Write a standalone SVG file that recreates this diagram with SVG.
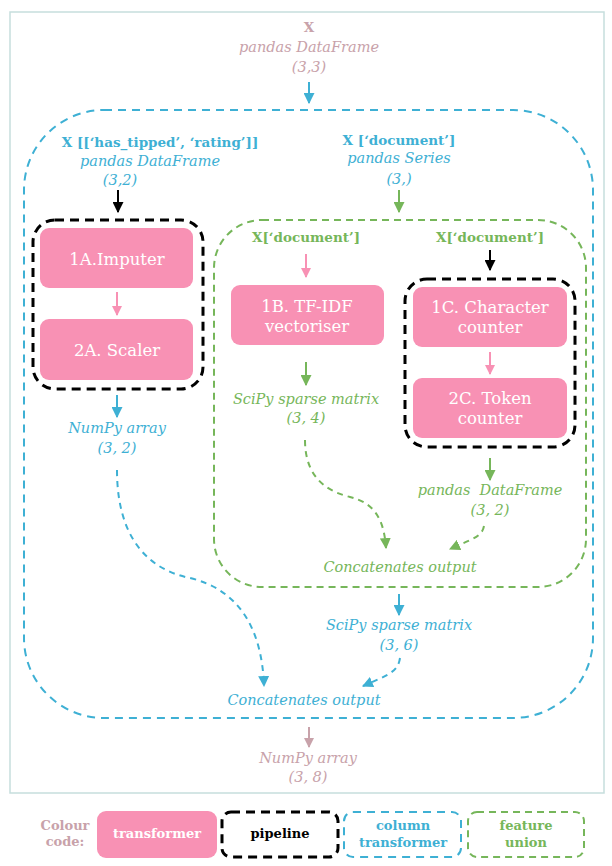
<svg xmlns="http://www.w3.org/2000/svg" width="612" height="866" viewBox="0 0 612 866">
<defs>
<style>
text{font-family:"DejaVu Serif","Liberation Serif",serif;text-anchor:middle}
.it{font-style:italic;font-size:14.5px}
.b{font-weight:bold;font-size:13.5px}
.lg{font-size:13px}
.box{fill:#f891b4}
.bt{fill:#fff;font-size:16.5px}
.blue{fill:#3eb0d4}
.green{fill:#76b65a}
.grey{fill:#c8a2aa}
.ct{fill:none;stroke:#3eb0d4;stroke-width:2;stroke-dasharray:8 6}
.fu{fill:none;stroke:#76b65a;stroke-width:2;stroke-dasharray:7 5}
.pl{fill:none;stroke:#000;stroke-width:3;stroke-dasharray:9 6}
.a{fill:none;stroke-width:2}
.ab{stroke:#3eb0d4;marker-end:url(#mb)}
.ag{stroke:#76b65a;marker-end:url(#mg)}
.ap{stroke:#f891b4;marker-end:url(#mp)}
.ak{stroke:#000;marker-end:url(#mk)}
.ay{stroke:#c8a2aa;marker-end:url(#my)}
.dash{stroke-dasharray:6 5}
</style>
<marker id="mb" viewBox="0 0 10 10" refX="9" refY="5" markerWidth="11" markerHeight="11" markerUnits="userSpaceOnUse" orient="auto"><path d="M0,0 L10,5 L0,10 Z" fill="#3eb0d4"/></marker>
<marker id="mg" viewBox="0 0 10 10" refX="9" refY="5" markerWidth="11" markerHeight="11" markerUnits="userSpaceOnUse" orient="auto"><path d="M0,0 L10,5 L0,10 Z" fill="#76b65a"/></marker>
<marker id="mp" viewBox="0 0 10 10" refX="9" refY="5" markerWidth="10" markerHeight="10" markerUnits="userSpaceOnUse" orient="auto"><path d="M0,0 L10,5 L0,10 Z" fill="#f891b4"/></marker>
<marker id="mk" viewBox="0 0 10 10" refX="9" refY="5" markerWidth="11" markerHeight="11" markerUnits="userSpaceOnUse" orient="auto"><path d="M0,0 L10,5 L0,10 Z" fill="#000"/></marker>
<marker id="my" viewBox="0 0 10 10" refX="9" refY="5" markerWidth="10" markerHeight="10" markerUnits="userSpaceOnUse" orient="auto"><path d="M0,0 L10,5 L0,10 Z" fill="#c8a2aa"/></marker>
</defs>
<rect width="612" height="866" fill="#fff"/>
<rect x="10" y="12" width="594" height="781" fill="none" stroke="#c6dedd" stroke-width="1.5"/>

<g id="input">
<text class="b grey" x="309" y="32">X</text>
<text class="it grey" x="309" y="52">pandas DataFrame</text>
<text class="it grey" x="309" y="72">(3,3)</text>
</g>

<g id="column-transformer">
<rect class="ct" x="24" y="110" width="569" height="608" rx="80" ry="80"/>
<text class="b blue" x="160" y="147">X [[‘has_tipped’, ‘rating’]]</text>
<text class="it blue" x="150" y="166">pandas DataFrame</text>
<text class="it blue" x="120" y="185">(3,2)</text>
<text class="b blue" x="399" y="145">X [‘document’]</text>
<text class="it blue" x="399" y="163">pandas Series</text>
<text class="it blue" x="399" y="184">(3,)</text>
<text class="it blue" x="399" y="630">SciPy sparse matrix</text>
<text class="it blue" x="399" y="650">(3, 6)</text>
<text class="it blue" x="304" y="705">Concatenates output</text>
</g>

<g id="pipeline-a">
<rect class="pl" x="33" y="220" width="170" height="169" rx="22" ry="22"/>
</g>
<g id="imputer">
<rect class="box" x="40" y="228" width="153" height="60" rx="9"/>
<text class="bt" x="117" y="265">1A.Imputer</text>
</g>
<g id="scaler">
<rect class="box" x="40" y="319" width="153" height="61" rx="9"/>
<text class="bt" x="117" y="356">2A. Scaler</text>
</g>
<g id="numpy-a">
<text class="it blue" x="117" y="433">NumPy array</text>
<text class="it blue" x="117" y="453">(3, 2)</text>
</g>

<g id="feature-union">
<rect class="fu" x="214" y="220" width="372" height="367" rx="48" ry="48"/>
<text class="b green" x="306" y="242">X[‘document’]</text>
<text class="b green" x="490" y="242">X[‘document’]</text>
<text class="it green" x="306" y="404">SciPy sparse matrix</text>
<text class="it green" x="306" y="423">(3, 4)</text>
<text class="it green" x="490" y="495">pandas&#160; DataFrame</text>
<text class="it green" x="490" y="515">(3, 2)</text>
<text class="it green" x="400" y="572">Concatenates output</text>
</g>
<g id="tfidf">
<rect class="box" x="231" y="285" width="153" height="60" rx="9"/>
<text class="bt" x="307" y="312">1B. TF-IDF</text>
<text class="bt" x="307" y="332">vectoriser</text>
</g>
<g id="pipeline-c">
<rect class="pl" x="405" y="279" width="170" height="168" rx="22" ry="22"/>
</g>
<g id="char-counter">
<rect class="box" x="413" y="287" width="154" height="60" rx="9"/>
<text class="bt" x="490" y="313">1C. Character</text>
<text class="bt" x="490" y="333">counter</text>
</g>
<g id="token-counter">
<rect class="box" x="413" y="378" width="154" height="60" rx="9"/>
<text class="bt" x="490" y="404">2C. Token</text>
<text class="bt" x="490" y="424">counter</text>
</g>

<g id="output">
<text class="it grey" x="308" y="763">NumPy array</text>
<text class="it grey" x="308" y="782">(3, 8)</text>
</g>

<g id="connectors">
<line class="a ab" x1="309" y1="82" x2="309" y2="103"/>
<line class="a ak" x1="118" y1="190" x2="118" y2="212"/>
<line class="a ag" x1="399" y1="190" x2="399" y2="212"/>
<line class="a ap" x1="117" y1="292" x2="117" y2="315"/>
<line class="a ab" x1="117" y1="395" x2="117" y2="417"/>
<line class="a ap" x1="306" y1="254" x2="306" y2="277"/>
<line class="a ag" x1="306" y1="362" x2="306" y2="385"/>
<line class="a ak" x1="490" y1="250" x2="490" y2="270"/>
<line class="a ap" x1="490" y1="352" x2="490" y2="374"/>
<line class="a ag" x1="490" y1="458" x2="490" y2="480"/>
<line class="a ab" x1="399" y1="594" x2="399" y2="615"/>
<line class="a ay" x1="309" y1="727" x2="309" y2="747"/>
<path class="a ag dash" d="M305,440 C305,480 330,492 350,497 C375,503 384,520 386,548"/>
<path class="a ag dash" d="M484,526 C482,537 472,539 450,549"/>
<path class="a ab dash" d="M117,470 C117,540 150,570 190,578 C240,590 262,630 264,686"/>
<path class="a ab dash" d="M400,658 C398,672 388,675 363,686"/>
</g>

<g id="legend">
<text class="b lg grey" x="65" y="830">Colour</text>
<text class="b lg grey" x="65" y="846">code:</text>
<g id="legend-transformer">
<rect class="box" x="97" y="811" width="120" height="47" rx="9"/>
<text class="b lg" x="157" y="838" fill="#fff">transformer</text>
</g>
<g id="legend-pipeline">
<rect class="pl" x="222" y="812" width="116" height="45" rx="9"/>
<text class="b lg" x="280" y="838" fill="#000">pipeline</text>
</g>
<g id="legend-column-transformer">
<rect class="ct" x="344" y="812" width="117" height="45" rx="9"/>
<text class="b lg blue" x="403" y="830">column</text>
<text class="b lg blue" x="403" y="847">transformer</text>
</g>
<g id="legend-feature-union">
<rect class="fu" x="468" y="812" width="116" height="45" rx="9"/>
<text class="b lg green" x="526" y="830">feature</text>
<text class="b lg green" x="526" y="847">union</text>
</g>
</g>
</svg>
